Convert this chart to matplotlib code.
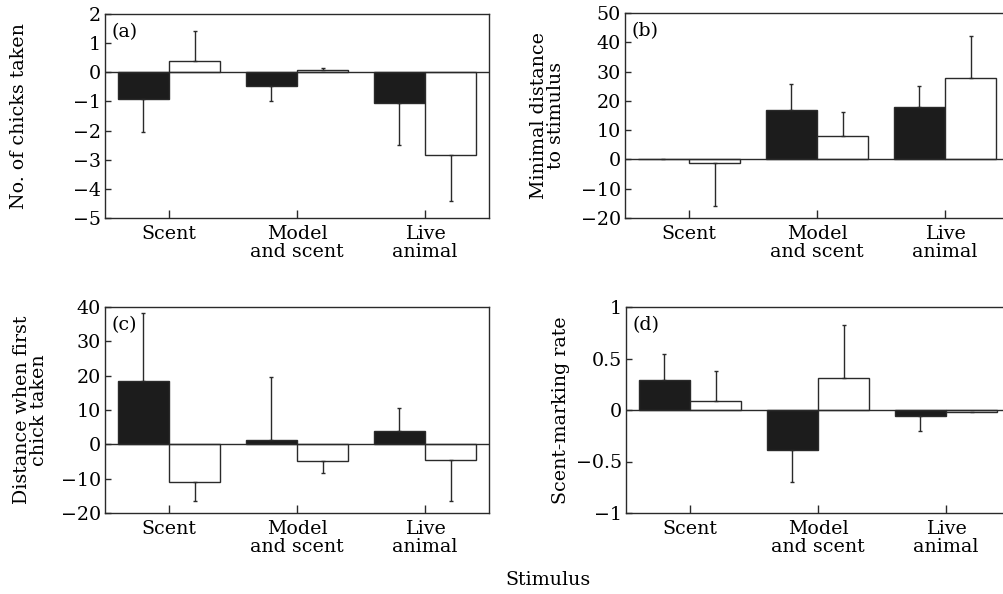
import numpy as np
import matplotlib
matplotlib.use("Agg")
import matplotlib.pyplot as plt

plt.rcParams['font.family'] = ['DejaVu Serif']
plt.rcParams['font.size'] = 13.7

categories = ["Scent", "Model\nand scent", "Live\nanimal"]

# (a) No. of chicks taken
a_black = [-0.92, -0.47, -1.07]
a_black_err = [1.14, 0.52, 1.44]
a_white = [0.38, 0.07, -2.84]
a_white_err = [1.02, 0.09, 1.58]

# (b) Minimal distance to stimulus
b_black = [0.0, 16.8, 17.8]
b_black_err = [np.nan, 9.0, 7.3]
b_white = [-1.3, 7.9, 27.9]
b_white_err = [14.5, 8.3, 14.4]

# (c) Distance when first chick taken
c_black = [18.5, 1.2, 3.9]
c_black_err = [19.8, 18.3, 6.8]
c_white = [-10.9, -4.9, -4.6]
c_white_err = [5.5, 3.4, 11.8]

# (d) Scent-marking rate
d_black = [0.29, -0.385, -0.055]
d_black_err = [0.25, 0.315, 0.145]
d_white = [0.09, 0.31, -0.02]
d_white_err = [0.29, 0.52, np.nan]

edge = '#2a2a2a'
W = 0.4


def one_sided(vals, errs):
    vals = np.asarray(vals, float)
    errs = np.asarray(errs, float)
    lo = np.where(vals < 0, errs, 0.0)
    hi = np.where(vals >= 0, errs, 0.0)
    return np.vstack([lo, hi])


def panel(ax, black, black_err, white, white_err, ylim, yticks, yticklabels, ylabel, tag, labx):
    x = np.arange(len(categories))
    ax.bar(x - W / 2, black, W, color='#1c1c1c', edgecolor=edge, linewidth=1.0, zorder=2)
    ax.bar(x + W / 2, white, W, color='white', edgecolor=edge, linewidth=1.0, zorder=2)
    ax.errorbar(x - W / 2, black, yerr=one_sided(black, black_err), fmt='none',
                ecolor=edge, elinewidth=1.0, capsize=1.6, capthick=1.0, zorder=3)
    ax.errorbar(x + W / 2, white, yerr=one_sided(white, white_err), fmt='none',
                ecolor=edge, elinewidth=1.0, capsize=1.6, capthick=1.0, zorder=3)
    ax.axhline(0, color=edge, linewidth=1.0, zorder=4)
    ax.set_xlim(-0.5, 2.5)
    ax.set_ylim(*ylim)
    ax.set_yticks(yticks)
    ax.set_yticklabels(yticklabels)
    ax.set_xticks(x)
    ax.set_xticklabels(categories, linespacing=1.0)
    ax.tick_params(axis='x', direction='in', length=6, width=1.0, color=edge, pad=5)
    ax.tick_params(axis='y', direction='in', length=4, width=1.0, color=edge, pad=3)
    for s in ax.spines.values():
        s.set_color(edge)
        s.set_linewidth(1.0)
    ax.set_ylabel(ylabel, linespacing=0.95)
    ax.yaxis.set_label_coords(labx, 0.5)
    ax.text(0.018, 0.955, tag, transform=ax.transAxes, ha='left', va='top')


fig = plt.figure(figsize=(10.04, 5.94), dpi=100)
axw = 384 / 1004
ax_a = fig.add_axes([105 / 1004, (594 - 218) / 594, axw, 204 / 594])
ax_b = fig.add_axes([625 / 1004, (594 - 218) / 594, axw, 205 / 594])
ax_c = fig.add_axes([105 / 1004, (594 - 513) / 594, axw, 206 / 594])
ax_d = fig.add_axes([626 / 1004, (594 - 513) / 594, axw, 206 / 594])

panel(ax_a, a_black, a_black_err, a_white, a_white_err, (-5, 2),
      range(-5, 3), ['\u22125', '\u22124', '\u22123', '\u22122', '\u22121', '0', '1', '2'],
      'No. of chicks taken', '(a)', -0.2)
panel(ax_b, b_black, b_black_err, b_white, b_white_err, (-20, 50),
      range(-20, 60, 10), ['\u221220', '\u221210', '0', '10', '20', '30', '40', '50'],
      'Minimal distance\nto stimulus', '(b)', -0.155)
panel(ax_c, c_black, c_black_err, c_white, c_white_err, (-20, 40),
      range(-20, 50, 10), ['\u221220', '\u221210', '0', '10', '20', '30', '40'],
      'Distance when first\nchick taken', '(c)', -0.148)
panel(ax_d, d_black, d_black_err, d_white, d_white_err, (-1, 1),
      [-1, -0.5, 0, 0.5, 1], ['\u22121', '\u22120.5', '0', '0.5', '1'],
      'Scent-marking rate', '(d)', -0.146)

fig.text(548 / 1004, 1 - 580 / 594, 'Stimulus', ha='center', va='center')

fig.savefig('out.png', dpi=100)
